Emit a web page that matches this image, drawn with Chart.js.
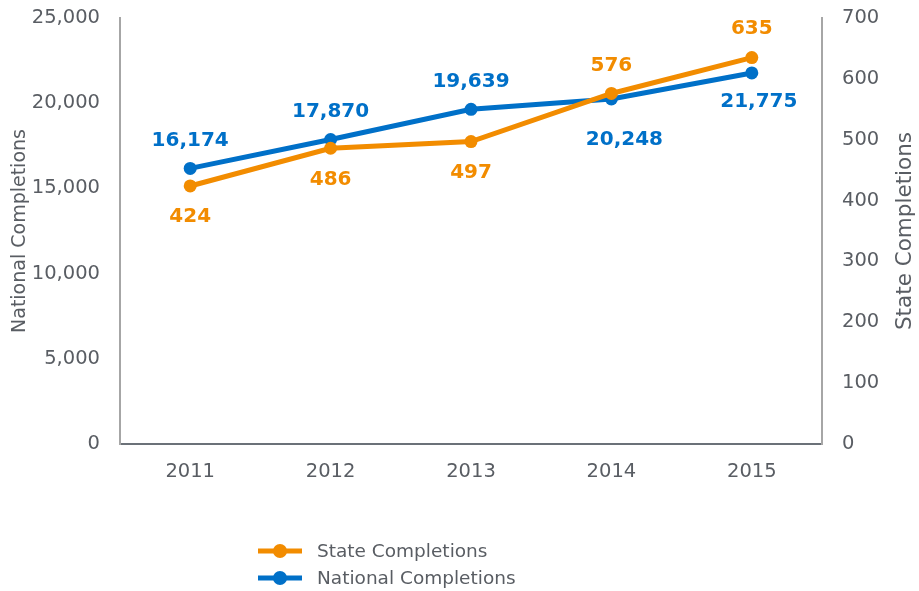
<!DOCTYPE html>
<html>
<head>
<meta charset="utf-8">
<script src="https://cdn.jsdelivr.net/npm/chart.js@4"></script>
<style>
  html, body { margin: 0; padding: 0; background: #fff; }
  #wrap { width: 919px; height: 591px; }
</style>
</head>
<body>
<div id="wrap"><canvas id="grafico" width="919" height="591"></canvas></div>
<script>
// Datos de titulaciones por año
const years = ["2011", "2012", "2013", "2014", "2015"];
const stateCompletions = [424, 486, 497, 576, 635];
const nationalCompletions = [16174, 17870, 19639, 20248, 21775];

const FONT = "'DejaVu Sans', Verdana, sans-serif";
const TXT = '#595d63';
const ORANGE = '#F28C00';
const BLUE = '#0070C8';

// Posición de cada etiqueta: desplazamiento respecto al punto
const labelOffsets = {
    state:    [{ dx: 0, dy: 31 }, { dx: 0, dy: 32 }, { dx: 0, dy: 31 }, { dx: 0, dy: -28 }, { dx: 0, dy: -29 }],
    national: [{ dx: 0, dy: -28 }, { dx: 0, dy: -28 }, { dx: 0, dy: -28 }, { dx: 13, dy: 41 }, { dx: 7, dy: 29 }]
};

const etiquetas = {
    id: 'etiquetas',
    afterDatasetsDraw(chart) {
        const ctx = chart.ctx;
        ctx.save();
        ctx.font = 'bold 20px ' + FONT;
        ctx.textAlign = 'center';
        ctx.textBaseline = 'middle';
        chart.data.datasets.forEach((ds, i) => {
            const meta = chart.getDatasetMeta(i);
            const offs = labelOffsets[ds.key];
            meta.data.forEach((pt, j) => {
                ctx.fillStyle = ds.borderColor;
                ctx.fillText(ds.data[j].toLocaleString('en-US'), pt.x + offs[j].dx, pt.y + offs[j].dy);
            });
        });
        ctx.restore();
    }
};

// Título del eje derecho (leído de abajo hacia arriba) y leyenda
const extras = {
    id: 'extras',
    afterDraw(chart) {
        const ctx = chart.ctx;
        const area = chart.chartArea;
        ctx.save();
        ctx.fillStyle = TXT;
        ctx.font = '21.5px ' + FONT;
        ctx.textAlign = 'center';
        ctx.textBaseline = 'middle';
        ctx.translate(905, (area.top + area.bottom) / 2);
        ctx.rotate(-Math.PI / 2);
        ctx.fillText('State Completions', 0, 0);
        ctx.restore();

        ctx.save();
        chart.data.datasets.forEach((ds, i) => {
            const y = 551 + i * 27;
            ctx.strokeStyle = ds.borderColor;
            ctx.lineWidth = 5;
            ctx.beginPath();
            ctx.moveTo(258, y);
            ctx.lineTo(302, y);
            ctx.stroke();
            ctx.fillStyle = ds.borderColor;
            ctx.beginPath();
            ctx.arc(280, y, 7, 0, Math.PI * 2);
            ctx.fill();
            ctx.fillStyle = TXT;
            ctx.font = '18.5px ' + FONT;
            ctx.textAlign = 'left';
            ctx.textBaseline = 'middle';
            ctx.fillText(ds.label, 317, y + 1);
        });
        ctx.restore();
    }
};

const fixY = w => s => { s.width = w; s.paddingTop = 0; s.paddingBottom = 0; };

const ctx = document.getElementById('grafico').getContext('2d');
const chart = new Chart(ctx, {
    type: 'line',
    data: {
        labels: years,
        datasets: [
            {
                key: 'state',
                label: 'State Completions',
                data: stateCompletions,
                yAxisID: 'yState',
                borderColor: ORANGE,
                backgroundColor: ORANGE,
                borderWidth: 5,
                pointRadius: 6.5,
                pointBorderWidth: 0,
                pointHoverRadius: 6.5,
                tension: 0
            },
            {
                key: 'national',
                label: 'National Completions',
                data: nationalCompletions,
                yAxisID: 'yNational',
                borderColor: BLUE,
                backgroundColor: BLUE,
                borderWidth: 5,
                pointRadius: 6.5,
                pointBorderWidth: 0,
                pointHoverRadius: 6.5,
                tension: 0
            }
        ]
    },
    options: {
        responsive: false,
        animation: false,
        layout: { padding: { top: 18, left: 0, right: 0, bottom: 0 } },
        plugins: {
            legend: { display: false },
            tooltip: { enabled: false }
        },
        scales: {
            x: {
                offset: true,
                grid: { display: false },
                border: { display: true, color: '#6b7178', width: 2 },
                ticks: { color: TXT, font: { family: FONT, size: 19.5 }, padding: 8 },
                afterFit: s => { s.height = 147; s.paddingLeft = 0; s.paddingRight = 0; }
            },
            yNational: {
                position: 'left',
                min: 0, max: 25000,
                grid: { display: false },
                border: { display: true, color: '#a6a6a6', width: 2 },
                ticks: {
                    stepSize: 5000, color: TXT, padding: 12,
                    font: { family: FONT, size: 19.5 },
                    callback: v => v.toLocaleString('en-US')
                },
                title: {
                    display: true, text: 'National Completions', color: TXT,
                    font: { family: FONT, size: 19 }, padding: { top: 9, bottom: 0 }
                },
                afterFit: fixY(120)
            },
            yState: {
                position: 'right',
                min: 0, max: 700,
                grid: { display: false },
                border: { display: true, color: '#a6a6a6', width: 2 },
                ticks: {
                    stepSize: 100, color: TXT, padding: 12,
                    font: { family: FONT, size: 19.5 }
                },
                afterFit: fixY(97)
            }
        }
    },
    plugins: [etiquetas, extras]
});
</script>
</body>
</html>
